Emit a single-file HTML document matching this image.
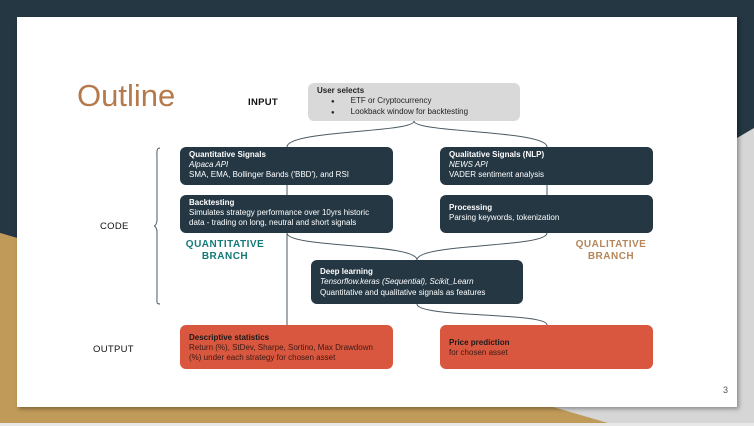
<!DOCTYPE html>
<html><head><style>
*{margin:0;padding:0;box-sizing:border-box}
body{width:754px;height:426px;position:relative;overflow:hidden;background:#d6d6d6;font-family:"Liberation Sans",sans-serif}
.slide{position:absolute;left:17px;top:17px;width:720px;height:390px;background:#fff;box-shadow:2px 2px 4px rgba(0,0,0,.35)}
.box{position:absolute;border-radius:6px;color:#fff;font-size:8px;line-height:10px;padding:3px 9px}
.d{background:#243743}
.r{background:#da573f;color:#3a1a14}
.r b{color:#1a1a1a}
.lbl{position:absolute;font-size:9.5px;font-weight:bold;color:#111;letter-spacing:.3px}
.br{position:absolute;font-size:10px;font-weight:bold;text-align:center;line-height:12px;letter-spacing:.5px}
</style></head><body>
<svg width="754" height="426" style="position:absolute;left:0;top:0">
<polygon points="0,0 754,0 754,128 737,138 737,17 17,17 17,238 0,233" fill="#243743"/>
<polygon points="0,233 17,238 17,407 553,407 608,423 0,423" fill="#c09a58"/>
<rect x="0" y="423" width="754" height="3" fill="#e8e8e8"/>
</svg>
<div class="slide"></div>
<svg width="754" height="426" style="position:absolute;left:0;top:0" fill="none" stroke="#4a5a64" stroke-width="1">
<path d="M414,121 C414,133 287,130 287,147"/>
<path d="M414,121 C414,133 547,130 547,147"/>
<path d="M287,185 V195 M547,185 V195 M287,233 V325"/>
<path d="M287,233 C287,248 417,243 417,260"/>
<path d="M547,233 C547,248 417,243 417,260"/>
<path d="M417,304 C417,318 547,312 547,325"/>
<path d="M160,148 C156,148 157,152 157,160 V220 C157,224 155,226 154,226 C155,226 157,228 157,232 V296 C157,302 156,304 160,304"/>
</svg>
<div style="position:absolute;left:77px;top:78px;font-size:31px;color:#b57a4c">Outline</div>
<div class="lbl" style="left:248px;top:97px">INPUT</div>
<div class="lbl" style="left:100px;top:221px;font-weight:normal">CODE</div>
<div class="lbl" style="left:93px;top:344px;font-weight:normal">OUTPUT</div>
<div class="br" style="left:170px;top:239px;width:110px;color:#137a78">QUANTITATIVE<br>BRANCH</div>
<div class="br" style="left:556px;top:239px;width:110px;color:#b58659">QUALITATIVE<br>BRANCH</div>
<div class="box" style="left:308px;top:83px;width:212px;height:38px;background:#d9d9d9;color:#222;padding:3px 9px">
<b>User selects</b><br><span style="margin-left:14px;font-size:6px">●</span><span style="margin-left:16px">ETF or Cryptocurrency</span><br><span style="margin-left:14px;font-size:6px">●</span><span style="margin-left:16px">Lookback window for backtesting</span></div>
<div class="box d" style="left:180px;top:147px;width:213px;height:38px"><b>Quantitative Signals</b><br><i>Alpaca API</i><br>SMA, EMA, Bollinger Bands ('BBD'), and RSI</div>
<div class="box d" style="left:440px;top:147px;width:213px;height:38px"><b>Qualitative Signals (NLP)</b><br><i>NEWS API</i><br>VADER sentiment analysis</div>
<div class="box d" style="left:180px;top:195px;width:213px;height:38px"><b>Backtesting</b><br>Simulates strategy performance over 10yrs historic<br>data - trading on long, neutral and short signals</div>
<div class="box d" style="left:440px;top:195px;width:213px;height:38px;padding-top:8px"><b>Processing</b><br>Parsing keywords, tokenization</div>
<div class="box d" style="left:311px;top:260px;width:212px;height:44px;padding-top:7px"><b>Deep learning</b><br><i>Tensorflow.keras (Sequential), Scikit_Learn</i><br><span style="line-height:12px">Quantitative and qualitative signals as features</span></div>
<div class="box r" style="left:180px;top:325px;width:213px;height:44px;padding-top:8px"><b>Descriptive statistics</b><br>Return (%), StDev, Sharpe, Sortino, Max Drawdown<br>(%) under each strategy for chosen asset</div>
<div class="box r" style="left:440px;top:325px;width:213px;height:44px;padding-top:13px"><b>Price prediction</b><br>for chosen asset</div>
<div style="position:absolute;left:723px;top:385px;font-size:9px;color:#555">3</div>
</body></html>
